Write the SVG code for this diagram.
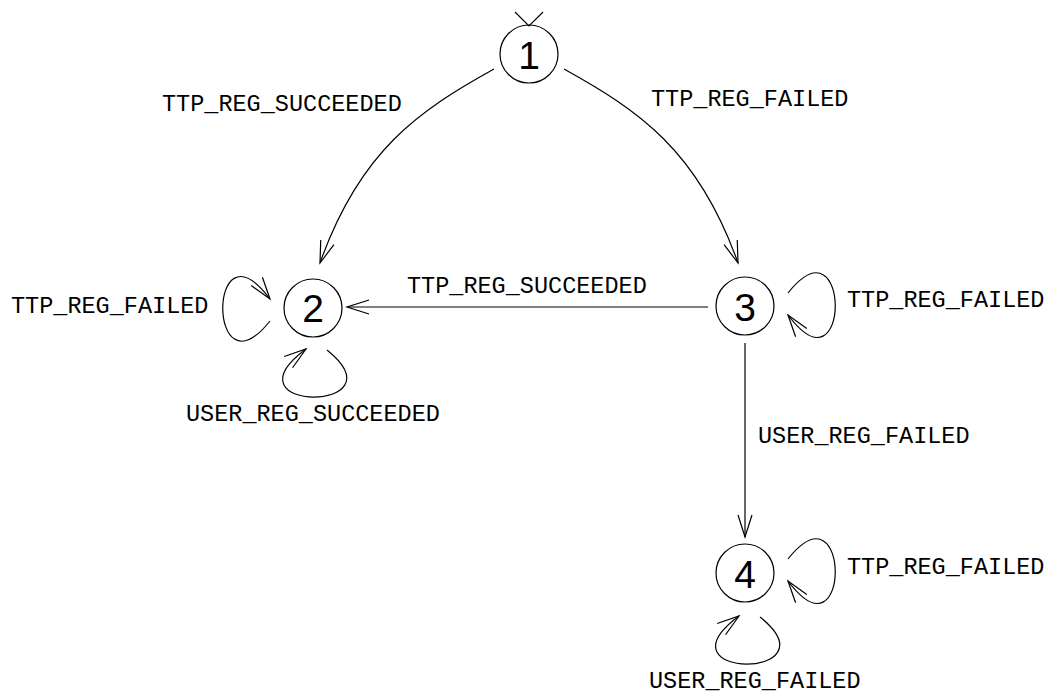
<svg xmlns="http://www.w3.org/2000/svg" width="1048" height="694" viewBox="0 0 1048 694">
  <style>
    .state circle { fill: none; stroke: #000; stroke-width: 1.2; }
    .state text { font-family: "Liberation Sans", Arial, sans-serif; font-size: 39px; text-anchor: middle; fill: #000; }
    .edge { fill: none; stroke: #000; stroke-width: 1.2; marker-end: url(#open); }
    .lbl { font-family: "Liberation Mono", "Courier New", monospace; font-size: 23.5px; fill: #000; }
  </style>
  <defs>
    <marker id="open" markerUnits="userSpaceOnUse" markerWidth="30" markerHeight="20" viewBox="-24 -10 26 20" refX="0" refY="0" orient="auto" overflow="visible">
      <path d="M-22,-7 L0,0 L-22,7" fill="none" stroke="#000" stroke-width="1.2"/>
    </marker>
  </defs>
  <rect width="1048" height="694" fill="#fff"/>

  <!-- states -->
  <g id="state-1" class="state">
    <circle cx="529" cy="54" r="29"/>
    <text x="529" y="69">1</text>
  </g>
  <g id="state-2" class="state">
    <circle cx="313" cy="308" r="29"/>
    <text x="313" y="322">2</text>
  </g>
  <g id="state-3" class="state">
    <circle cx="745" cy="306" r="29"/>
    <text x="745" y="321">3</text>
  </g>
  <g id="state-4" class="state">
    <circle cx="745" cy="573" r="29"/>
    <text x="745" y="588">4</text>
  </g>

  <!-- transitions -->
  <g id="transitions">
    <!-- start marker on state 1 -->
    <path d="M515,12 L529,26 L543,12" fill="none" stroke="#000" stroke-width="1.2"/>
    <!-- 1 -> 2 and 1 -> 3 -->
    <path class="edge" d="M494,69 C420,110 360,150 320,263"/>
    <path class="edge" d="M564,69 C638,110 698,150 738,263"/>
    <!-- 3 -> 2 -->
    <path class="edge" d="M708,307 L347,307"/>
    <!-- 3 -> 4 -->
    <path class="edge" d="M745,343 L745,537"/>
    <!-- self loops on 2 -->
    <path class="edge" d="M270,321 C207,400 207,215 270,299"/>
    <path class="edge" d="M327,350 C405,413 220,413 306,349"/>
    <!-- self loops on 3 -->
    <path class="edge" d="M788,293 C851,214 851,399 788,315"/>
    <!-- self loops on 4 -->
    <path class="edge" d="M788,559 C851,480 851,665 788,581"/>
    <path class="edge" d="M760,617 C838,680 653,680 739,616"/>
  </g>

  <!-- transition labels -->
  <g id="labels" class="lbl">
    <text x="162" y="111">TTP_REG_SUCCEEDED</text>
    <text x="651" y="106">TTP_REG_FAILED</text>
    <text x="11" y="313">TTP_REG_FAILED</text>
    <text x="407" y="293">TTP_REG_SUCCEEDED</text>
    <text x="186" y="421">USER_REG_SUCCEEDED</text>
    <text x="847" y="307">TTP_REG_FAILED</text>
    <text x="758" y="443">USER_REG_FAILED</text>
    <text x="847" y="574">TTP_REG_FAILED</text>
    <text x="649" y="688">USER_REG_FAILED</text>
  </g>
</svg>
